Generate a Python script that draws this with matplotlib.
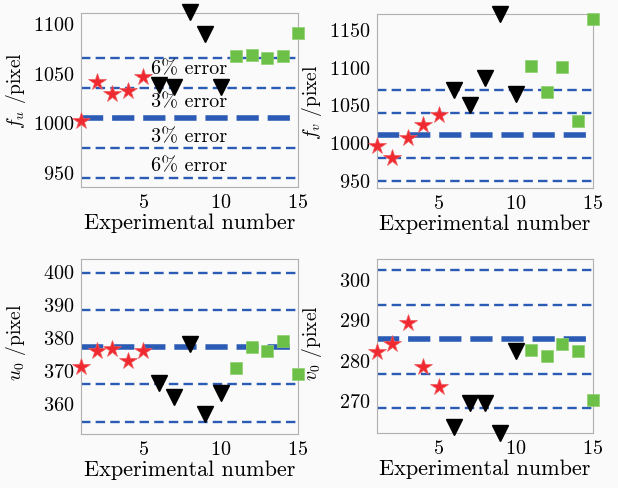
import matplotlib
matplotlib.use("Agg")
import matplotlib.pyplot as plt

plt.rcParams['font.family'] = ['cmr10', 'DejaVu Serif']
plt.rcParams['mathtext.fontset'] = 'cm'
plt.rcParams['axes.formatter.use_mathtext'] = True

# experiment index
exp_no = list(range(1, 16))

# f_u
fu_vals = [1001.6, 1040.2, 1028.5, 1031.2, 1045.3,
           1037.8, 1035.2, 1110.6, 1088.8, 1035.2,
           1066.4, 1067.7, 1064.7, 1066.4, 1089.5]
fu_ref = 1004.6
# f_v
fv_vals = [995.1, 978.8, 1005.3, 1022.0, 1036.2,
           1069.7, 1049.4, 1085.6, 1170.0, 1063.6,
           1100.7, 1066.2, 1099.3, 1028.6, 1164.0]
fv_ref = 1008.7
# u_0
u0_vals = [371.0, 375.6, 376.3, 372.6, 375.6,
           366.0, 361.7, 377.8, 356.6, 362.9,
           370.5, 376.8, 375.6, 378.7, 368.8]
u0_ref = 376.9
# v_0
v0_vals = [281.8, 284.0, 289.2, 278.2, 273.2,
           263.4, 269.2, 269.3, 261.8, 282.1,
           282.5, 281.0, 284.0, 282.1, 269.9]
v0_ref = 285.1

error_labels = ['6% error', '3% error', '3% error', '6% error']

panels = [
    (fu_vals, fu_ref, r"$f_u$ /pixel", (935, 1110), [950, 1000, 1050, 1100]),
    (fv_vals, fv_ref, r"$f_v$ /pixel", (939, 1170), [950, 1000, 1050, 1100, 1150]),
    (u0_vals, u0_ref, r"$u_0$ /pixel", (350.5, 403.7), [360, 370, 380, 390, 400]),
    (v0_vals, v0_ref, r"$v_0$ /pixel", (261.8, 305), [270, 280, 290, 300]),
]
boxes = [
    (81, 14, 298, 188),
    (377, 15, 593, 189),
    (81, 260, 298, 435),
    (377, 260, 593, 434),
]
label_y = [0.56, 0.5, 0.53, 0.52]

W, H = 618, 489
fig = plt.figure(figsize=(W / 100, H / 100), dpi=100)
fig.patch.set_facecolor('#fafafa')

blue = '#2b5bb5'
for (vals, ref, ylab, ylim, yticks), (l, t, r, b), ly in zip(panels, boxes, label_y):
    ax = fig.add_axes([l / W, 1 - b / H, (r - l) / W, (b - t) / H])
    ax.set_facecolor('#fafafa')
    for k in (-2, -1, 1, 2):
        ax.axhline(ref * (1 + 0.03 * k), color=blue, lw=1.7, ls=(0, (4, 2.2)), zorder=1)
    ax.axhline(ref, color=blue, lw=4, ls=(0, (4, 1.6)), zorder=1)
    ax.plot(exp_no[:5], vals[:5], '*', color='#ee2a30', ms=13, mec='#f05a5e', mew=0.5,
            clip_on=False, zorder=3)
    ax.plot(exp_no[5:10], vals[5:10], 'v', color='black', ms=11, clip_on=False, zorder=3)
    ax.plot(exp_no[10:], vals[10:], 's', color='#6cbf47', ms=9, mec='#8fd070', mew=0.5,
            clip_on=False, zorder=3)
    ax.set_xlim(1, 15)
    ax.set_ylim(*ylim)
    ax.set_xticks([5, 10, 15])
    ax.set_yticks(yticks)
    ax.tick_params(labelsize=14.5, length=0, pad=4.5)
    for s in ax.spines.values():
        s.set_color('#b0b0b0')
        s.set_linewidth(0.8)
    ax.set_xlabel('Experimental number', fontsize=16, labelpad=1)
    ax.set_ylabel(ylab, fontsize=14)
    ax.yaxis.set_label_coords(-0.245, ly)

    if ylab.startswith(r"$f_u"):
        # labels sit between the error lines
        for k, lab in zip((1.65, 0.55, -0.6, -1.6), error_labels):
            ax.text(8.0, ref + k * 0.03 * ref, lab, fontsize=14.5,
                    ha='center', va='center', zorder=2)

fig.savefig('out.png', dpi=100, facecolor=fig.get_facecolor())
